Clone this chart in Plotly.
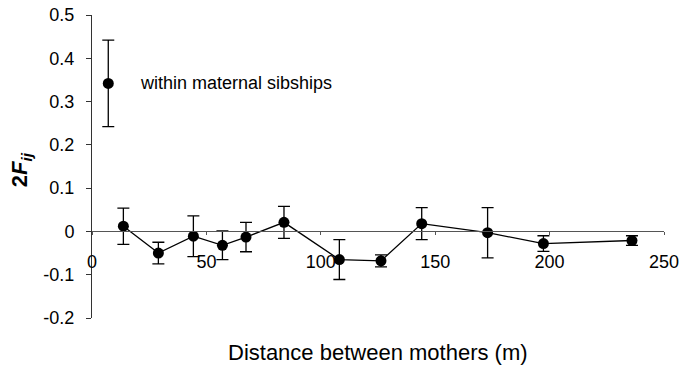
import plotly.graph_objects as go

# Data
dist = [13.7, 29.0, 44.3, 57.0, 67.3, 83.9, 108.1, 126.3, 144.1, 172.9, 197.3, 236.0]
fij = [0.012, -0.050, -0.011, -0.032, -0.013, 0.021, -0.065, -0.068, 0.018, -0.003, -0.028, -0.021]
err = [0.042, 0.025, 0.047, 0.033, 0.034, 0.037, 0.046, 0.014, 0.037, 0.058, 0.018, 0.011]

sib_x = [7.1]
sib_y = [0.342]
sib_err = [0.100]
sib_label = "within maternal sibships"

x_title = "Distance between mothers (m)"
y_title = "<b>2<i>F</i><sub><i>ij</i></sub></b>"

xticks = [0, 50, 100, 150, 200, 250]
yticks = [-0.2, -0.1, 0, 0.1, 0.2, 0.3, 0.4, 0.5]
yticktext = ["-0.2", "-0.1", "0", "0.1", "0.2", "0.3", "0.4", "0.5"]

FONT = "Liberation Sans, Arial, sans-serif"

fig = go.Figure()
fig.add_trace(go.Scatter(
    x=dist, y=fij, mode="lines+markers",
    line=dict(color="black", width=1.3),
    marker=dict(color="black", size=11),
    error_y=dict(type="data", array=err, color="black", thickness=1.3, width=6),
    showlegend=False, cliponaxis=False,
))
fig.add_trace(go.Scatter(
    x=sib_x, y=sib_y, mode="markers",
    marker=dict(color="black", size=11),
    error_y=dict(type="data", array=sib_err, color="black", thickness=1.3, width=6),
    showlegend=False, cliponaxis=False,
))

fig.add_annotation(x=20.3, y=sib_y[0], xref="x", yref="y", text=sib_label,
                   showarrow=False, xanchor="left", yanchor="middle",
                   font=dict(family=FONT, size=18, color="black"))

# axis titles placed as paper annotations
fig.add_annotation(x=0.5, y=-0.1155, xref="paper", yref="paper", text=x_title,
                   showarrow=False, xanchor="center", yanchor="middle",
                   font=dict(family=FONT, size=22, color="black"))
fig.add_annotation(x=-0.124, y=0.488, xref="paper", yref="paper", text=y_title,
                   showarrow=False, xanchor="center", yanchor="middle", textangle=-90,
                   font=dict(family=FONT, size=22, color="black"))

fig.update_layout(
    width=682, height=368,
    margin=dict(l=92, r=18, t=15, b=50),
    paper_bgcolor="white", plot_bgcolor="white",
    font=dict(family=FONT, size=18, color="black"),
    xaxis=dict(
        range=[-0.01, 250], tickvals=xticks, ticktext=[str(v) for v in xticks],
        showgrid=False, zeroline=False,
        showline=True, linecolor="#555", linewidth=1,
        ticks="outside", ticklen=3, tickcolor="#555",
        anchor="free", position=2 / 7,
        ticklabelstandoff=11, automargin=False, ticklabeloverflow="allow",
    ),
    yaxis=dict(
        range=[-0.2, 0.5], tickvals=yticks, ticktext=yticktext,
        showgrid=False, zeroline=False,
        showline=True, linecolor="#333", linewidth=1,
        ticks="outside", ticklen=5, tickcolor="#333",
        ticklabelstandoff=8, automargin=False, ticklabeloverflow="allow",
    ),
)

# remove the page's default body margin, then redraw so every measurement is fresh
post = (
    "document.body.style.margin='0';"
    "var gd=document.getElementById('{plot_id}');"
    "Plotly.newPlot(gd, gd.data, gd.layout, {displayModeBar:false});"
)
fig.write_html("out.html", config={"displayModeBar": False}, post_script=post)
